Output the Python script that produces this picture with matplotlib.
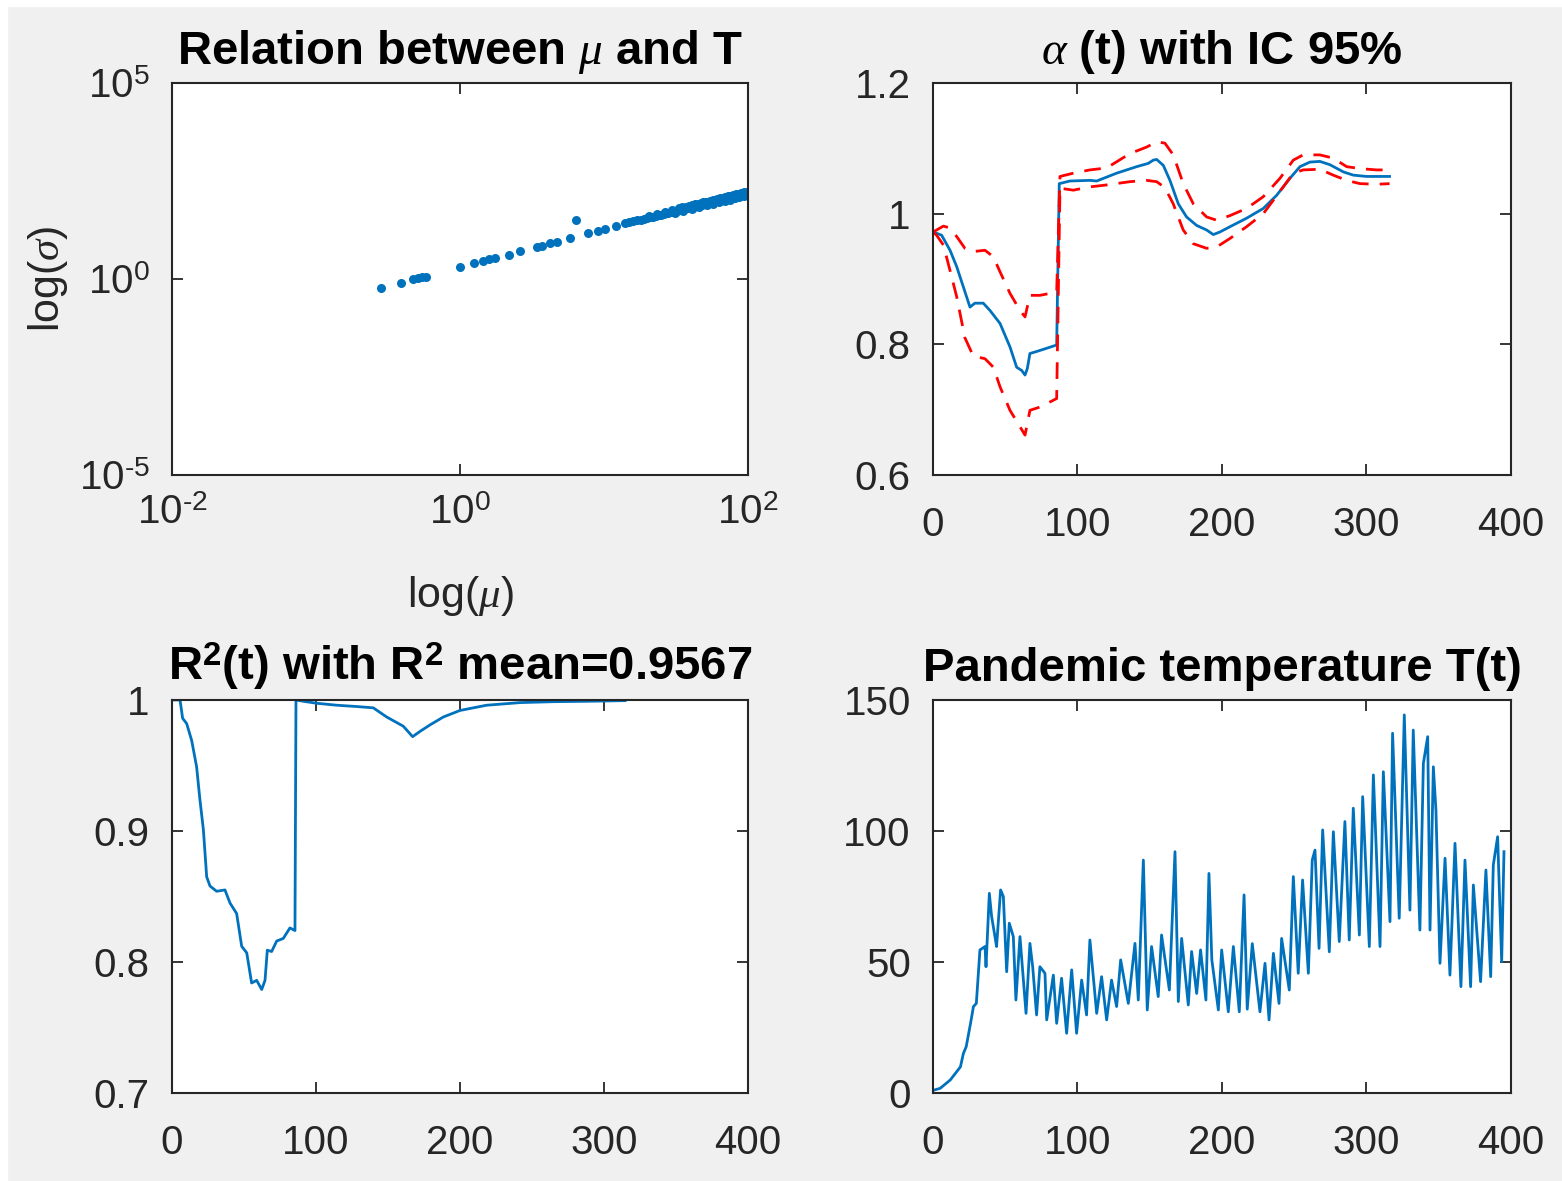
import matplotlib
matplotlib.use('Agg')
import matplotlib.pyplot as plt
from matplotlib.patches import Rectangle

# --- relacion mu / sigma (log-log) ---
mu = [0.283, 0.392, 0.474, 0.512, 0.544, 0.583, 1.0, 1.245, 1.445, 1.578, 1.755, 2.19, 2.61,
      3.41, 3.72, 4.19, 4.72, 5.81, 6.35, 7.8, 9.06, 10.2, 12.2,
      14, 15, 16, 17, 18, 19, 20, 21, 22, 23, 24, 25, 26, 27, 28, 29, 30, 32, 34, 36, 38,
      40, 42, 44, 46, 48, 50, 53, 56, 59, 62, 65, 68, 71, 74, 77, 80, 84, 88, 92, 96, 100,
      20.5, 23.5, 26.5, 29.5, 33, 35, 37, 39, 41, 43, 45, 47, 49, 51, 54.5, 57.5, 60.5,
      63.5, 66.5, 69.5, 72.5, 75.5, 78.5, 82, 86, 90, 94, 98,
      31, 35.5, 40.5, 45.5, 51.5, 57, 63, 69, 75, 81, 87, 93, 99]
sigma = [0.579, 0.777, 0.98, 1.04, 1.10, 1.15, 1.99, 2.51, 2.88, 3.18, 3.43, 4.1, 5.27,
         6.67, 6.95, 8.14, 8.95, 10.9, 32.0, 14.6, 17.1, 18.9, 22.5,
         26.2, 27.9, 29.5, 31.2, 32.8, 34.5, 36.1, 37.7, 39.3, 40.9, 42.5, 44.1, 45.7, 47.3,
         48.9, 50.4, 52.0, 55.1, 58.2, 61.3, 64.3, 67.3, 70.4, 73.4, 76.3, 79.3, 82.3, 86.7,
         91.1, 95.4, 99.7, 104, 108, 113, 117, 121, 125, 131, 136, 142, 147, 153,
         41.3, 46.7, 52.1, 57.3, 63.5, 66.9, 70.3, 73.7, 77.1, 80.5, 83.8, 87.2, 90.5, 93.8,
         99.5, 104.4, 109.3, 114.1, 118.9, 123.7, 128.5, 133.2, 138, 143.5, 149.7, 155.9,
         162, 168.1,
         48.2, 54.4, 61.3, 68, 76, 83.3, 91.1, 98.8, 106.5, 114.2, 121.7, 129, 136.4]
exp_x = ['-2', '0', '2']
exp_y = ['-5', '0', '5']

# --- alfa(t) con IC 95% ---
alfa_t = [0, 2.5, 6, 11.8, 16.4, 21, 25.6, 29, 34.8, 39.4, 46.4, 53.3, 57.9, 61.4, 63.7,
          65.3, 67.1, 71.7, 78.7, 85.6, 87.4, 94.8, 108.6, 113.3, 127.1, 141, 149, 152.5,
          154.8, 159.4, 164, 169.8, 175.5, 182.5, 189.4, 194, 198.6, 205.5, 217, 228.6,
          237.8, 247, 254, 260.9, 267.8, 274.7, 284, 290.9, 300, 316]
alfa = [0.972, 0.970, 0.967, 0.944, 0.919, 0.888, 0.857, 0.863, 0.863, 0.852, 0.832, 0.796,
        0.765, 0.760, 0.753, 0.763, 0.786, 0.789, 0.794, 0.799, 1.046, 1.050, 1.051, 1.050,
        1.062, 1.072, 1.077, 1.082, 1.083, 1.074, 1.051, 1.015, 0.995, 0.982, 0.975, 0.968,
        0.972, 0.980, 0.993, 1.008, 1.028, 1.054, 1.072, 1.079, 1.080, 1.075, 1.064, 1.059,
        1.057, 1.057]
ic_t = [0, 2.5, 7.2, 11.8, 16.4, 22.1, 27.9, 36, 41.8, 46.4, 53.3, 60.2, 63.7, 67.1, 74,
        85.6, 87.9, 97.1, 108.6, 120.2, 136.3, 147.9, 154.8, 160.5, 166.3, 173.2, 180.2,
        189.4, 196.3, 205.5, 217, 228.6, 240.1, 249.4, 256.2, 267.8, 277, 286.3, 295.5, 307, 316]
ic_sup = [0.972, 0.975, 0.981, 0.978, 0.965, 0.947, 0.942, 0.944, 0.934, 0.911, 0.878, 0.852,
          0.842, 0.875, 0.875, 0.880, 1.057, 1.062, 1.067, 1.070, 1.092, 1.102, 1.110, 1.108,
          1.090, 1.046, 1.015, 0.995, 0.990, 0.997, 1.008, 1.026, 1.054, 1.082, 1.090, 1.090,
          1.085, 1.072, 1.069, 1.067, 1.067]
ic_inf = [0.972, 0.967, 0.952, 0.913, 0.873, 0.81, 0.782, 0.778, 0.765, 0.735, 0.699, 0.674,
          0.661, 0.699, 0.704, 0.717, 1.039, 1.036, 1.041, 1.044, 1.049, 1.051, 1.049, 1.040,
          1.015, 0.975, 0.954, 0.947, 0.949, 0.962, 0.980, 1.000, 1.034, 1.062, 1.067, 1.068,
          1.059, 1.051, 1.046, 1.045, 1.046]

# --- R^2(t) ---
r2_t = [1, 3.2, 5.6, 7.4, 10.2, 13.7, 17.1, 19.4, 21.8, 24.1, 26.4, 31, 36.8, 40.3, 44.9,
        48.4, 51.9, 55.3, 58.8, 62.3, 64.6, 66.2, 69.2, 72.7, 77.3, 81.9, 85.4, 86.1, 91.2,
        100.5, 114.4, 128.2, 139.8, 149.1, 160.6, 167.1, 172.2, 179.2, 188.4, 200, 218.5,
        241.7, 264.8, 288, 314.6]
r2 = [1.0, 1.0, 1.0, 0.986, 0.982, 0.969, 0.949, 0.924, 0.901, 0.865, 0.858, 0.854, 0.855,
      0.845, 0.837, 0.812, 0.807, 0.784, 0.786, 0.779, 0.786, 0.809, 0.808, 0.816, 0.818,
      0.826, 0.824, 1.0, 0.999, 0.9975, 0.996, 0.995, 0.994, 0.987, 0.980, 0.972, 0.976,
      0.981, 0.987, 0.992, 0.996, 0.998, 0.9987, 0.999, 0.9995]

# --- temperatura pandemica T(t) ---
temp_dia = [0, 5, 12, 19, 21, 23, 26, 28, 30, 32.5, 36, 36.7, 39, 40.6, 42.9, 44, 46.8, 48.7,
            51, 52.8, 55.6, 57.4, 60.2, 64.4, 67.1, 69, 71.7, 74, 77.5, 78.7, 83.3, 85.6, 89,
            92.5, 96, 99.4, 102.9, 106.3, 108.6, 113.3, 116.7, 120.2, 123.6, 127.1, 129.9,
            135.2, 139.8, 142.1, 145.6, 148.3, 151.3, 155.9, 158.2, 163.6, 167.5, 169.8, 172.1,
            176.7, 179, 182.5, 185.2, 188.9, 191, 193, 197.5, 199.8, 204.4, 207.9, 212, 215.3,
            217.5, 221, 226.3, 229.8, 232.6, 235.6, 239.5, 241.3, 246.6, 249.4, 252.8, 255.8,
            259.8, 262.5, 264.4, 267.2, 269.7, 274.3, 277.1, 281.2, 285.1, 288.1, 290.9, 295.1,
            297.4, 302, 304.8, 309.4, 311.7, 316.3, 318.1, 322.7, 326.2, 330.1, 332.4, 337,
            339.4, 342.4, 344, 346.3, 348.1, 350.9, 354.4, 357.8, 361.3, 365.4, 368.2, 372.1,
            374, 379, 382.7, 386, 387.8, 390.8, 393.6, 395.2]
temp_val = [1, 1.8, 5, 10, 15, 17.7, 26.6, 33, 34.2, 54.6, 55.9, 48.2, 76.2, 67.3, 59.7, 55.9,
            77.5, 75, 46.3, 64.8, 59.7, 35.5, 59.7, 30.4, 57.1, 48.2, 29.8, 48.2, 45.7, 27.9,
            45, 26.6, 43.8, 22.8, 47, 22.8, 43.1, 29.8, 58.4, 30.4, 44.4, 27.9, 43.1, 33, 50.8,
            34.2, 57.1, 35.5, 88.9, 31.7, 55.9, 36.8, 60.3, 39.3, 92.1, 34.9, 59, 33.6, 54, 38,
            54.6, 35.5, 83.8, 50.8, 31.7, 54.6, 31, 55.9, 31, 75.6, 32, 57, 31, 49.5, 27.9,
            53.3, 34.2, 59, 39.3, 82.6, 45.7, 81.3, 45.7, 88.9, 92.7, 55.2, 100.4, 53.9, 99.7,
            57.8, 103.6, 58.4, 108.7, 60.3, 113.1, 55.9, 121.4, 55.9, 122.6, 65.4, 137.3, 66.7,
            144.3, 69.8, 138.5, 62.2, 125.8, 136, 62.2, 124.5, 108, 49.5, 89.6, 45, 95.3, 40.6,
            88.9, 40.6, 79.4, 42.5, 85.1, 44.4, 87, 97.8, 50.1, 92.1]

plt.rcParams['font.family'] = ['Liberation Sans', 'DejaVu Sans']
plt.rcParams['mathtext.fontset'] = 'custom'
plt.rcParams['mathtext.rm'] = 'Liberation Sans'
plt.rcParams['mathtext.it'] = 'Liberation Serif:italic'
plt.rcParams['mathtext.bf'] = 'Liberation Sans:bold'
plt.rcParams['axes.unicode_minus'] = False

azul = '#0072BD'
gris = '#262626'
tam_ticks = 29
tam_titulo = 34

fig = plt.figure(figsize=(15.62, 11.81), dpi=100, facecolor='#F0F0F0')
# bordes blancos de la captura
fig.add_artist(Rectangle((0, 1 - 6 / 1181), 1, 6 / 1181, transform=fig.transFigure,
                         color='white', zorder=0))
fig.add_artist(Rectangle((0, 0), 7 / 1562, 1, transform=fig.transFigure,
                         color='white', zorder=0))


def estilo(ax):
    for s in ax.spines.values():
        s.set_linewidth(1.5)
        s.set_color(gris)
    ax.tick_params(direction='in', length=8, width=1.3, top=True, right=True,
                   labelsize=tam_ticks, colors=gris)
    ax.tick_params(axis='x', pad=22)
    ax.tick_params(axis='y', pad=16)


def potencia(e):
    # guion corto como en la figura original, no signo menos
    return r'$10^{' + e.replace('-', '\u2010') + '}$'


ax1 = fig.add_axes([0.1101, 0.5978, 0.3688, 0.3319])
ax2 = fig.add_axes([0.5973, 0.5978, 0.3700, 0.3319])
ax3 = fig.add_axes([0.1101, 0.0745, 0.3688, 0.3328])
ax4 = fig.add_axes([0.5973, 0.0745, 0.3700, 0.3328])

# relacion mu - T
ax1.loglog(mu, sigma, 'o', color=azul, ms=6.5, mec='none')
ax1.set_xlim(1e-2, 1e2)
ax1.set_ylim(1e-5, 1e5)
ax1.set_xticks([1e-2, 1, 1e2])
ax1.set_xticklabels([potencia(e) for e in exp_x])
ax1.set_yticks([1e-5, 1, 1e5])
ax1.set_yticklabels([potencia(e) for e in exp_y])
ax1.minorticks_off()
estilo(ax1)
ax1.tick_params(axis='x', pad=14)
ax1.set_xlabel(r'log($\mu$)', fontsize=tam_ticks + 2, color=gris, labelpad=30)
ax1.set_ylabel(r'log($\sigma$)', fontsize=tam_ticks + 2, color=gris, labelpad=6)
ax1.set_title(r'Relation between $\mu$ and T', fontsize=tam_titulo, fontweight='bold', pad=14)

# alfa(t)
ax2.plot(alfa_t, alfa, color=azul, lw=2)
ax2.plot(ic_t, ic_sup, '--', color='#FF0000', lw=2, dashes=(6, 4))
ax2.plot(ic_t, ic_inf, '--', color='#FF0000', lw=2, dashes=(6, 4))
ax2.set_xlim(0, 400)
ax2.set_ylim(0.6, 1.2)
ax2.set_xticks([0, 100, 200, 300, 400])
ax2.set_yticks([0.6, 0.8, 1.0, 1.2])
ax2.set_yticklabels(['0.6', '0.8', '1', '1.2'])
estilo(ax2)
ax2.set_title(r'$\alpha$ (t) with IC 95%', fontsize=tam_titulo, fontweight='bold', pad=14)

# R^2(t)
ax3.plot(r2_t, r2, color=azul, lw=2)
ax3.set_xlim(0, 400)
ax3.set_ylim(0.7, 1.0)
ax3.set_xticks([0, 100, 200, 300, 400])
ax3.set_yticks([0.7, 0.8, 0.9, 1.0])
ax3.set_yticklabels(['0.7', '0.8', '0.9', '1'])
estilo(ax3)
ax3.set_title(r'R$^{\mathbf{2}}$(t) with R$^{\mathbf{2}}$ mean=0.9567', fontsize=tam_titulo,
              fontweight='bold', pad=14)

# temperatura
ax4.plot(temp_dia, temp_val, color=azul, lw=2)
ax4.set_xlim(0, 400)
ax4.set_ylim(0, 150)
ax4.set_xticks([0, 100, 200, 300, 400])
ax4.set_yticks([0, 50, 100, 150])
estilo(ax4)
ax4.set_title('Pandemic temperature T(t)', fontsize=tam_titulo, fontweight='bold', pad=14)

fig.savefig('out.png', dpi=100, facecolor=fig.get_facecolor())
